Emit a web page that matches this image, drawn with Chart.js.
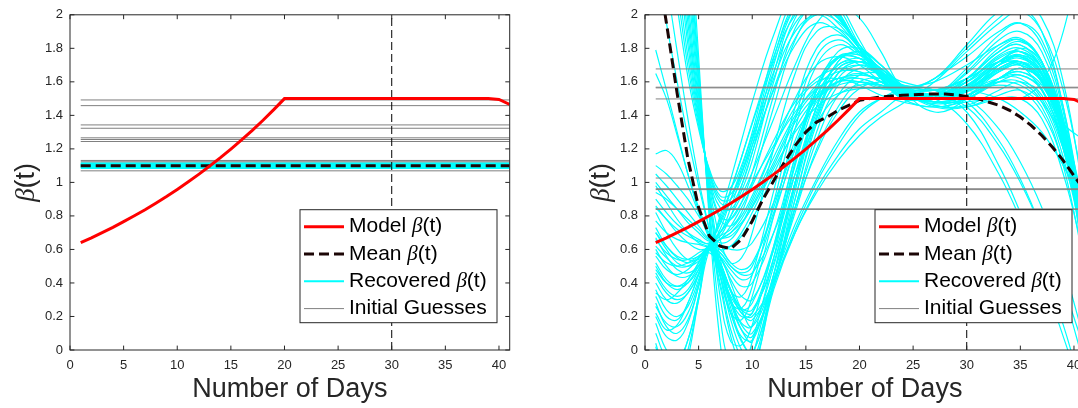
<!DOCTYPE html>
<html>
<head>
<meta charset="utf-8">
<script src="https://cdn.jsdelivr.net/npm/chart.js@4.4.0/dist/chart.umd.min.js"></script>
<style>
  html, body { margin: 0; padding: 0; background: #fff; overflow: hidden; width: 1078px; height: 408px; }
  .panel { position: absolute; top: 0; width: 540px; height: 408px; }
  #leftpanel { left: 0; }
  #rightpanel { left: 575px; }
</style>
</head>
<body>
<div class="panel" id="leftpanel"><canvas id="leftchart" width="540" height="408"></canvas></div>
<div class="panel" id="rightpanel"><canvas id="rightchart" width="540" height="408"></canvas></div>
<script>
const axisColor = '#262626';
Chart.defaults.font.family = '"Liberation Sans", Arial, Helvetica, sans-serif';
Chart.defaults.color = axisColor;

// days 1..41
const days = [1, 2, 3, 4, 5, 6, 7, 8, 9, 10, 11, 12, 13, 14, 15, 16, 17, 18, 19, 20,
  21, 22, 23, 24, 25, 26, 27, 28, 29, 30, 31, 32, 33, 34, 35, 36, 37, 38, 39, 40, 41];

// model beta(t), same in both panels
const modelBeta = [0.64, 0.669, 0.70, 0.732, 0.766, 0.801, 0.837, 0.876, 0.916, 0.958,
  1.002, 1.048, 1.096, 1.146, 1.199, 1.254, 1.311, 1.371, 1.434, 1.50,
  1.50, 1.50, 1.50, 1.50, 1.50, 1.50, 1.50, 1.50, 1.50, 1.50,
  1.50, 1.50, 1.50, 1.50, 1.50, 1.50, 1.50, 1.50, 1.50, 1.495, 1.465];

// left panel: constant fits
const meanLeft = 1.1;
const recoveredLeft = [1.085, 1.09, 1.095, 1.1, 1.105, 1.11, 1.115];
const guessesLeft = [1.492, 1.458, 1.343, 1.323, 1.266, 1.256, 1.244, 1.131, 1.123, 1.069];

// right panel: time-varying fits
const meanRight = [2.36, 1.95, 1.53, 1.14, 0.85, 0.68, 0.62, 0.605, 0.66, 0.77,
  0.90, 1.01, 1.12, 1.22, 1.30, 1.36, 1.39, 1.43, 1.46, 1.49,
  1.50, 1.51, 1.515, 1.52, 1.523, 1.526, 1.528, 1.528, 1.522, 1.512,
  1.50, 1.48, 1.46, 1.43, 1.39, 1.34, 1.28, 1.21, 1.13, 1.04, 0.95];

const knotDays = [1, 2, 3, 4, 5, 6, 7, 8, 9, 10, 12, 14, 16, 18, 20, 22, 24, 27, 30, 33, 35, 37, 39, 41];

const recoveredRight = [
  // steep band from the top
  [3.0, 2.5, 2.05, 1.63, 1.32, 1.08, 0.95, 0.97, 1.1, 1.3, 1.78, 2.12, 2.22, 2.08, 1.85, 1.64, 1.5, 1.52, 1.68, 1.88, 1.95, 1.85, 1.45, 0.75],
  [3.25, 2.68, 2.15, 1.69, 1.34, 1.07, 0.92, 0.93, 1.06, 1.26, 1.74, 2.08, 2.18, 2.05, 1.82, 1.63, 1.51, 1.52, 1.66, 1.85, 1.9, 1.78, 1.38, 0.68],
  [3.5, 2.85, 2.25, 1.75, 1.36, 1.06, 0.9, 0.9, 1.02, 1.22, 1.7, 2.05, 2.15, 2.02, 1.8, 1.62, 1.52, 1.52, 1.65, 1.82, 1.86, 1.72, 1.3, 0.6],
  [3.75, 3.05, 2.38, 1.82, 1.38, 1.05, 0.88, 0.87, 0.98, 1.18, 1.65, 2.02, 2.12, 2.01, 1.8, 1.62, 1.52, 1.51, 1.62, 1.78, 1.82, 1.68, 1.28, 0.58],
  [4.0, 3.25, 2.5, 1.88, 1.4, 1.03, 0.85, 0.84, 0.95, 1.13, 1.6, 1.98, 2.1, 2.0, 1.8, 1.63, 1.53, 1.5, 1.6, 1.75, 1.78, 1.65, 1.25, 0.55],
  [4.2, 3.42, 2.62, 1.95, 1.43, 1.02, 0.8, 0.78, 0.88, 1.06, 1.52, 1.92, 2.06, 1.99, 1.8, 1.63, 1.53, 1.5, 1.58, 1.72, 1.75, 1.62, 1.24, 0.58],
  [4.4, 3.6, 2.75, 2.02, 1.45, 1.0, 0.78, 0.74, 0.82, 1.0, 1.45, 1.85, 2.02, 1.98, 1.8, 1.64, 1.54, 1.5, 1.57, 1.7, 1.72, 1.6, 1.22, 0.6],
  [4.6, 3.78, 2.88, 2.1, 1.48, 0.98, 0.66, 0.52, 0.55, 0.7, 1.2, 1.65, 1.9, 1.92, 1.8, 1.65, 1.54, 1.5, 1.55, 1.68, 1.72, 1.62, 1.28, 0.7],
  [4.8, 3.95, 3.0, 2.2, 1.52, 0.95, 0.55, 0.35, 0.32, 0.45, 0.95, 1.45, 1.8, 1.88, 1.78, 1.65, 1.55, 1.5, 1.55, 1.68, 1.72, 1.62, 1.3, 0.75],
  [5.0, 4.12, 3.15, 2.3, 1.56, 0.92, 0.5, 0.28, 0.25, 0.38, 0.88, 1.38, 1.75, 1.85, 1.77, 1.65, 1.55, 1.5, 1.55, 1.67, 1.71, 1.61, 1.29, 0.74],
  [5.2, 4.3, 3.3, 2.4, 1.6, 0.9, 0.45, 0.22, 0.18, 0.32, 0.8, 1.32, 1.7, 1.82, 1.76, 1.65, 1.55, 1.5, 1.55, 1.66, 1.7, 1.6, 1.28, 0.72],
  [5.4, 4.45, 3.42, 2.5, 1.64, 0.86, 0.32, 0.05, 0.03, 0.15, 0.62, 1.16, 1.58, 1.75, 1.74, 1.64, 1.55, 1.5, 1.57, 1.7, 1.75, 1.65, 1.32, 0.71],
  [5.6, 4.6, 3.55, 2.58, 1.68, 0.82, 0.2, -0.1, -0.12, 0.05, 0.55, 1.12, 1.55, 1.74, 1.74, 1.64, 1.55, 1.5, 1.56, 1.68, 1.72, 1.62, 1.3, 0.7],
  [6.0, 4.9, 3.8, 2.75, 1.75, 0.78, 0.05, -0.3, -0.3, -0.05, 0.45, 1.0, 1.45, 1.68, 1.72, 1.64, 1.56, 1.5, 1.58, 1.72, 1.78, 1.68, 1.35, 0.72],
  // high starts falling into the valley
  [1.79, 1.55, 1.3, 1.05, 0.83, 0.66, 0.48, 0.3, 0.2, 0.22, 0.6, 1.1, 1.5, 1.7, 1.72, 1.64, 1.55, 1.52, 1.62, 1.78, 1.82, 1.7, 1.3, 0.6],
  [1.65, 1.5, 1.28, 1.05, 0.85, 0.68, 0.52, 0.36, 0.25, 0.24, 0.52, 1.0, 1.42, 1.65, 1.7, 1.64, 1.56, 1.52, 1.6, 1.74, 1.78, 1.68, 1.32, 0.7],
  [2.3, 1.95, 1.6, 1.27, 0.98, 0.72, 0.5, 0.28, 0.12, 0.08, 0.4, 0.95, 1.4, 1.65, 1.72, 1.66, 1.57, 1.52, 1.6, 1.76, 1.8, 1.68, 1.28, 0.55],
  [2.6, 2.2, 1.78, 1.38, 1.02, 0.72, 0.45, 0.22, 0.05, -0.02, 0.4, 0.9, 1.35, 1.62, 1.7, 1.65, 1.57, 1.52, 1.62, 1.8, 1.85, 1.72, 1.3, 0.5],
  // low starts
  [1.17, 1.19, 1.12, 0.98, 0.82, 0.68, 0.6, 0.62, 0.7, 0.82, 1.08, 1.3, 1.45, 1.53, 1.56, 1.56, 1.55, 1.55, 1.55, 1.5, 1.42, 1.3, 1.1, 0.85],
  [1.1, 1.05, 0.98, 0.9, 0.8, 0.7, 0.64, 0.66, 0.75, 0.88, 1.15, 1.4, 1.58, 1.66, 1.66, 1.6, 1.55, 1.52, 1.55, 1.6, 1.58, 1.48, 1.25, 0.9],
  [0.94, 0.9, 0.84, 0.78, 0.72, 0.66, 0.7, 0.85, 1.05, 1.25, 1.62, 1.9, 2.0, 1.92, 1.78, 1.64, 1.54, 1.48, 1.52, 1.62, 1.66, 1.58, 1.3, 0.8],
  [0.85, 0.78, 0.72, 0.68, 0.65, 0.64, 0.76, 0.95, 1.15, 1.36, 1.75, 2.05, 2.12, 1.98, 1.8, 1.64, 1.53, 1.47, 1.5, 1.6, 1.64, 1.55, 1.22, 0.7],
  [0.77, 0.7, 0.66, 0.64, 0.63, 0.62, 0.72, 0.9, 1.08, 1.28, 1.66, 1.95, 2.05, 1.95, 1.8, 1.66, 1.55, 1.45, 1.45, 1.52, 1.55, 1.45, 1.1, 0.5],
  [0.73, 0.62, 0.55, 0.52, 0.55, 0.6, 0.52, 0.35, 0.22, 0.18, 0.42, 0.9, 1.38, 1.65, 1.72, 1.66, 1.56, 1.48, 1.5, 1.62, 1.68, 1.6, 1.3, 0.75],
  [0.67, 0.56, 0.48, 0.46, 0.5, 0.58, 0.48, 0.3, 0.15, 0.1, 0.4, 0.85, 1.3, 1.58, 1.68, 1.64, 1.56, 1.5, 1.55, 1.7, 1.76, 1.68, 1.35, 0.7],
  [0.6, 0.5, 0.44, 0.44, 0.5, 0.6, 0.58, 0.5, 0.45, 0.46, 0.7, 1.05, 1.35, 1.52, 1.58, 1.58, 1.55, 1.52, 1.55, 1.62, 1.62, 1.5, 1.2, 0.8],
  [0.52, 0.42, 0.38, 0.4, 0.48, 0.6, 0.66, 0.7, 0.78, 0.9, 1.2, 1.5, 1.7, 1.75, 1.7, 1.6, 1.52, 1.48, 1.52, 1.6, 1.6, 1.48, 1.15, 0.6],
  [0.44, 0.34, 0.3, 0.34, 0.45, 0.6, 0.56, 0.4, 0.24, 0.14, 0.42, 0.75, 1.02, 1.25, 1.42, 1.5, 1.54, 1.55, 1.62, 1.72, 1.75, 1.65, 1.35, 0.85],
  [0.36, 0.24, 0.2, 0.26, 0.42, 0.62, 0.45, 0.18, 0.0, -0.08, 0.38, 0.72, 1.0, 1.22, 1.4, 1.5, 1.56, 1.6, 1.7, 1.82, 1.85, 1.72, 1.35, 0.7],
  [0.28, 0.14, 0.1, 0.18, 0.38, 0.62, 0.38, 0.08, -0.1, -0.15, 0.38, 0.7, 0.96, 1.16, 1.32, 1.42, 1.52, 1.62, 1.75, 1.9, 1.95, 1.82, 1.42, 0.7],
  [0.16, 0.0, -0.06, 0.06, 0.32, 0.62, 0.5, 0.3, 0.12, 0.05, 0.45, 0.85, 1.18, 1.42, 1.56, 1.6, 1.58, 1.55, 1.6, 1.72, 1.76, 1.64, 1.25, 0.5],
  [0.04, -0.15, -0.18, 0.0, 0.3, 0.6, 0.66, 0.68, 0.75, 0.86, 1.12, 1.38, 1.55, 1.62, 1.62, 1.58, 1.54, 1.52, 1.55, 1.58, 1.55, 1.42, 1.12, 0.7],
  [0.22, 0.12, 0.15, 0.28, 0.45, 0.62, 0.75, 0.9, 1.05, 1.22, 1.55, 1.82, 1.95, 1.9, 1.78, 1.65, 1.55, 1.46, 1.45, 1.5, 1.5, 1.38, 1.05, 0.55],
  [0.02, -0.2, -0.25, -0.05, 0.3, 0.62, 0.4, 0.12, -0.05, -0.12, 0.36, 0.7, 0.94, 1.13, 1.28, 1.39, 1.47, 1.6, 1.78, 1.95, 2.02, 1.9, 1.55, 0.95],
  [0.98, 0.88, 0.78, 0.7, 0.64, 0.61, 0.48, 0.32, 0.24, 0.28, 0.62, 1.12, 1.55, 1.78, 1.8, 1.7, 1.57, 1.48, 1.52, 1.66, 1.72, 1.64, 1.3, 0.68],
  [0.82, 0.7, 0.6, 0.54, 0.54, 0.6, 0.44, 0.22, 0.08, 0.06, 0.45, 0.98, 1.45, 1.72, 1.78, 1.7, 1.58, 1.5, 1.55, 1.7, 1.76, 1.66, 1.3, 0.62],
  [0.7, 0.6, 0.52, 0.5, 0.53, 0.6, 0.55, 0.45, 0.38, 0.4, 0.7, 1.15, 1.55, 1.75, 1.76, 1.68, 1.57, 1.5, 1.54, 1.66, 1.7, 1.6, 1.26, 0.66],
  [0.4, 0.3, 0.28, 0.34, 0.46, 0.62, 0.5, 0.3, 0.16, 0.14, 0.5, 1.0, 1.45, 1.72, 1.78, 1.7, 1.58, 1.5, 1.56, 1.72, 1.78, 1.68, 1.32, 0.66],
  [0.26, 0.16, 0.14, 0.22, 0.4, 0.62, 0.55, 0.42, 0.32, 0.3, 0.6, 1.05, 1.45, 1.68, 1.72, 1.66, 1.57, 1.52, 1.58, 1.7, 1.74, 1.64, 1.3, 0.7],
  [0.1, -0.05, -0.08, 0.06, 0.32, 0.62, 0.48, 0.25, 0.06, -0.02, 0.4, 0.82, 1.2, 1.45, 1.6, 1.62, 1.58, 1.55, 1.62, 1.78, 1.84, 1.72, 1.38, 0.78],
  [0.62, 0.55, 0.5, 0.5, 0.55, 0.62, 0.62, 0.6, 0.6, 0.64, 0.88, 1.22, 1.52, 1.7, 1.74, 1.68, 1.58, 1.5, 1.52, 1.62, 1.64, 1.55, 1.22, 0.65],
  [0.46, 0.36, 0.32, 0.36, 0.48, 0.62, 0.6, 0.52, 0.48, 0.52, 0.82, 1.2, 1.55, 1.74, 1.76, 1.68, 1.56, 1.48, 1.5, 1.62, 1.66, 1.56, 1.2, 0.6],
  [0.58, 0.52, 0.5, 0.52, 0.56, 0.62, 0.8, 1.02, 1.25, 1.48, 1.88, 2.15, 2.18, 2.02, 1.8, 1.62, 1.5, 1.45, 1.5, 1.62, 1.68, 1.6, 1.3, 0.75],
  [0.34, 0.3, 0.34, 0.42, 0.52, 0.62, 0.78, 0.96, 1.15, 1.35, 1.72, 2.0, 2.08, 1.98, 1.82, 1.66, 1.55, 1.48, 1.5, 1.62, 1.68, 1.6, 1.28, 0.7],
  [1.0, 0.92, 0.84, 0.76, 0.7, 0.65, 0.68, 0.8, 0.98, 1.18, 1.56, 1.86, 2.0, 1.96, 1.82, 1.67, 1.55, 1.46, 1.46, 1.55, 1.6, 1.52, 1.2, 0.62],
  [0.66, 0.58, 0.54, 0.54, 0.58, 0.62, 0.7, 0.8, 0.92, 1.06, 1.38, 1.7, 1.95, 2.05, 1.98, 1.78, 1.56, 1.42, 1.5, 1.7, 1.8, 1.72, 1.35, 0.7],
  // late behaviour: high second hump or early decline
  [0.5, 0.4, 0.36, 0.4, 0.5, 0.62, 0.58, 0.5, 0.46, 0.5, 0.85, 1.25, 1.5, 1.6, 1.6, 1.56, 1.55, 1.62, 1.82, 2.02, 2.05, 1.9, 1.45, 0.72],
  [0.86, 0.78, 0.7, 0.64, 0.6, 0.6, 0.56, 0.48, 0.42, 0.45, 0.8, 1.2, 1.48, 1.6, 1.62, 1.58, 1.56, 1.62, 1.8, 1.98, 2.06, 1.98, 1.6, 0.9],
  [0.2, 0.08, 0.06, 0.16, 0.38, 0.62, 0.52, 0.36, 0.24, 0.22, 0.55, 1.0, 1.38, 1.6, 1.65, 1.6, 1.56, 1.55, 1.62, 1.72, 1.7, 1.55, 1.35, 1.25],
  [0.48, 0.4, 0.38, 0.42, 0.52, 0.63, 0.7, 0.78, 0.88, 1.0, 1.22, 1.42, 1.56, 1.62, 1.64, 1.62, 1.58, 1.55, 1.42, 1.1, 0.82, 0.5, 0.15, -0.3],
  [0.9, 0.82, 0.75, 0.7, 0.66, 0.63, 0.66, 0.74, 0.85, 0.98, 1.25, 1.48, 1.62, 1.68, 1.66, 1.6, 1.55, 1.52, 1.45, 1.22, 1.0, 0.72, 0.38, 0.0],
  [0.32, 0.2, 0.18, 0.28, 0.45, 0.62, 0.52, 0.35, 0.22, 0.2, 0.42, 0.85, 1.25, 1.52, 1.64, 1.65, 1.6, 1.55, 1.48, 1.25, 1.02, 0.72, 0.35, -0.1],
  [1.05, 0.98, 0.9, 0.82, 0.74, 0.66, 0.62, 0.62, 0.68, 0.78, 1.05, 1.32, 1.5, 1.58, 1.6, 1.58, 1.55, 1.55, 1.5, 1.32, 1.12, 0.85, 0.5, 0.05],
  [0.7, 0.62, 0.56, 0.54, 0.56, 0.62, 0.66, 0.7, 0.76, 0.85, 1.1, 1.36, 1.52, 1.6, 1.6, 1.57, 1.54, 1.5, 1.35, 1.05, 0.78, 0.45, 0.08, -0.3],
  [0.56, 0.48, 0.45, 0.48, 0.55, 0.63, 0.68, 0.72, 0.8, 0.92, 1.2, 1.45, 1.6, 1.62, 1.58, 1.52, 1.48, 1.45, 1.48, 1.5, 1.5, 1.6, 1.9, 2.5]
];
const guessesRight = [1.677, 1.568, 1.564, 1.498, 1.026, 0.962, 0.957, 0.842, 0.839];

const markerDay = 30;
const legendNames = ['Model ', 'Mean ', 'Recovered ', 'Initial Guesses'];
const legendBeta = [true, true, true, false];

const styles = {
  model: { borderColor: '#ff0000', borderWidth: 3 },
  mean: { borderColor: '#1c0606', borderWidth: 3, borderDash: [10, 5] },
  recovered: { borderColor: '#00ffff', borderWidth: 1.2 },
  guess: { borderColor: '#808080', borderWidth: 1 }
};
const legendStyles = [styles.model, styles.mean, { borderColor: '#00ffff', borderWidth: 2 }, styles.guess];

function pts(xs, ys) { return xs.map((x, i) => ({ x: x, y: ys[i] })); }
function level(v) { return [{ x: days[0], y: v }, { x: days[days.length - 1], y: v }]; }

// text with an italic beta in the middle
function richParts(name, withBeta, size) {
  const normal = size + 'px "Liberation Sans", Arial, sans-serif';
  if (!withBeta) return [{ t: name, f: normal }];
  return [{ t: name, f: normal }, { t: '\u03B2', f: 'italic ' + size + 'px "Liberation Serif", serif' }, { t: '(t)', f: normal }];
}
function drawRich(ctx, parts, x, y, centered) {
  let w = 0;
  parts.forEach(p => { ctx.font = p.f; w += ctx.measureText(p.t).width; });
  let cx = centered ? x - w / 2 : x;
  ctx.textAlign = 'left';
  ctx.textBaseline = 'middle';
  parts.forEach(p => { ctx.font = p.f; ctx.fillText(p.t, cx, y); cx += ctx.measureText(p.t).width; });
}

const axesDecor = {
  id: 'axesDecor',
  afterDraw(chart) {
    const ctx = chart.ctx, a = chart.chartArea;
    const xs = chart.scales.x, ys = chart.scales.y;
    const tl = 4.4;
    ctx.save();
    // box and inward ticks
    ctx.strokeStyle = axisColor;
    ctx.lineWidth = 1;
    ctx.setLineDash([]);
    ctx.strokeRect(a.left, a.top, a.right - a.left, a.bottom - a.top);
    ctx.beginPath();
    xs.ticks.forEach(t => {
      const px = xs.getPixelForValue(t.value);
      ctx.moveTo(px, a.bottom); ctx.lineTo(px, a.bottom - tl);
      ctx.moveTo(px, a.top); ctx.lineTo(px, a.top + tl);
    });
    ys.ticks.forEach(t => {
      const py = ys.getPixelForValue(t.value);
      ctx.moveTo(a.left, py); ctx.lineTo(a.left + tl, py);
      ctx.moveTo(a.right, py); ctx.lineTo(a.right - tl, py);
    });
    ctx.stroke();

    // legend box, lower right inside the axes
    const w = 197, h = 113;
    const x0 = a.right - 12.7 - w, y0 = a.bottom - 27.3 - h;
    ctx.fillStyle = '#ffffff';
    ctx.fillRect(x0, y0, w, h);
    ctx.strokeStyle = axisColor;
    ctx.strokeRect(x0, y0, w, h);
    legendNames.forEach((name, i) => {
      const ry = y0 + 17 + i * 27.3;
      const st = legendStyles[i];
      ctx.strokeStyle = st.borderColor;
      ctx.lineWidth = st.borderWidth;
      ctx.setLineDash(st.borderDash || []);
      ctx.beginPath();
      ctx.moveTo(x0 + 4, ry); ctx.lineTo(x0 + 44, ry);
      ctx.stroke();
      ctx.fillStyle = '#000000';
      drawRich(ctx, richParts(name, legendBeta[i], 21), x0 + 49, ry, false);
    });

    // y label
    ctx.setLineDash([]);
    ctx.fillStyle = axisColor;
    ctx.translate(a.left - 43, (a.top + a.bottom) / 2);
    ctx.rotate(-Math.PI / 2);
    drawRich(ctx, richParts('', true, 27), 0, 0, true);
    ctx.restore();
  }
};

function makeChart(id, recoveredSets, recoveredWidth, guessLevels, meanData, tension) {
  const datasets = [];
  datasets.push(Object.assign({ data: pts(days, modelBeta), order: 0 }, styles.model));
  datasets.push(Object.assign({ data: meanData, order: 1 }, styles.mean));
  datasets.push({ data: [{ x: markerDay, y: 0 }, { x: markerDay, y: 2 }], borderColor: '#000000', borderWidth: 1, borderDash: [8, 4], order: 2 });
  guessLevels.forEach(v => datasets.push(Object.assign({ data: level(v), order: 3 }, styles.guess)));
  recoveredSets.forEach(d => datasets.push(Object.assign({}, styles.recovered, { data: d, order: 4, borderWidth: recoveredWidth, tension: tension })));

  return new Chart(document.getElementById(id), {
    type: 'line',
    data: { datasets: datasets },
    options: {
      responsive: false,
      animation: false,
      events: [],
      layout: { padding: { left: 0, right: 30.3, top: 14, bottom: 0 } },
      elements: {
        point: { radius: 0 },
        line: { tension: 0, capBezierPoints: false, borderCapStyle: 'butt' }
      },
      plugins: { legend: { display: false }, tooltip: { enabled: false } },
      scales: {
        x: {
          type: 'linear', min: 0, max: 41,
          grid: { display: false, drawTicks: false },
          border: { display: false },
          ticks: { stepSize: 5, includeBounds: false, padding: 8, maxRotation: 0, font: { size: 13 }, color: axisColor },
          title: { display: true, text: 'Number of Days', font: { size: 27 }, color: axisColor, padding: { top: 0, bottom: 2 } },
          afterFit(scale) { scale.height = 58; }
        },
        y: {
          min: 0, max: 2,
          grid: { display: false, drawTicks: false },
          border: { display: false },
          ticks: { stepSize: 0.2, padding: 7, font: { size: 13 }, color: axisColor,
            callback: v => String(Math.round(v * 10) / 10) },
          afterFit(scale) { scale.width = 70; }
        }
      }
    },
    plugins: [axesDecor]
  });
}

makeChart('leftchart', recoveredLeft.map(v => level(v)), 1.6, guessesLeft, level(meanLeft), 0);
makeChart('rightchart', recoveredRight.map(vals => pts(knotDays, vals)), 1.2, guessesRight, pts(days, meanRight), 0.4);
</script>
</body>
</html>
